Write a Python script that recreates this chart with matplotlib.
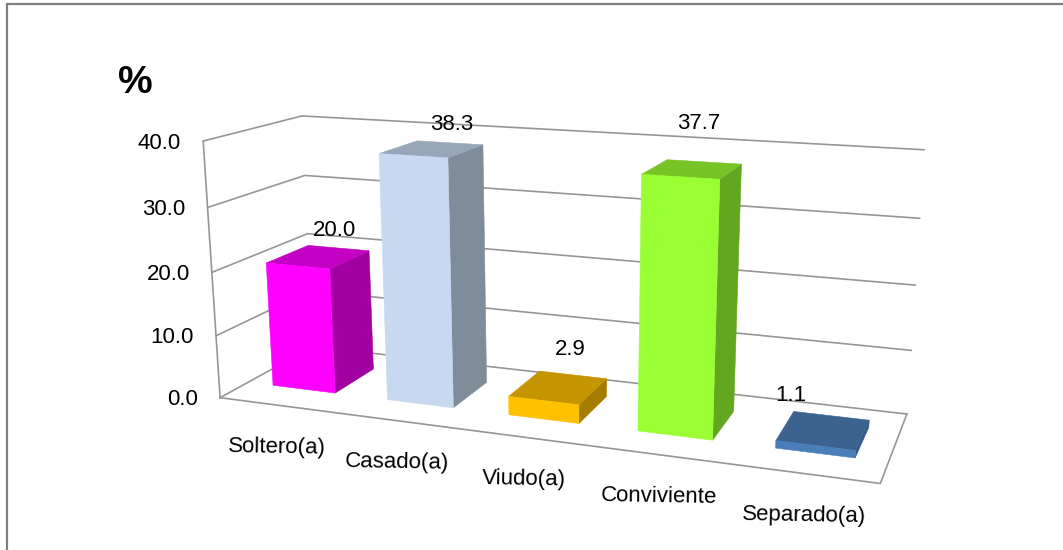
import numpy as np
import matplotlib
matplotlib.use('Agg')
import matplotlib.pyplot as plt
from matplotlib.patches import Polygon

categorias = ['Soltero(a)', 'Casado(a)', 'Viudo(a)', 'Conviviente', 'Separado(a)']
valores = [20.0, 38.3, 2.9, 37.7, 1.1]
niveles = [0, 10, 20, 30, 40]
etiquetas_y = ['0.0', '10.0', '20.0', '30.0', '40.0']

colores_frente = ['#FF00FF', '#C6D9F1', '#FFC000', '#99FF33', '#4A7EBB']
colores_arriba = ['#C400C4', '#98A6BA', '#C49500', '#77C426', '#3C628F']
colores_lado = ['#A000A0', '#7F8C9A', '#A67C00', '#63A620', '#37598A']

plt.rcParams['font.family'] = ['Liberation Sans', 'DejaVu Sans']

# camara: (x, profundidad, valor) -> pixel, ajustada a las esquinas de la caja
esquinas = [
    (0, 0, 0, 220, 398), (0, 0, 10, 216, 336), (0, 0, 20, 212.5, 272), (0, 0, 30, 207.5, 207), (0, 0, 40, 203, 141),
    (0, 1, 0, 313, 346), (0, 1, 20, 307, 235), (0, 1, 30, 305, 175), (0, 1, 40, 302, 116),
    (1, 1, 0, 907, 413), (1, 1, 10, 912, 351), (1, 1, 20, 915, 285), (1, 1, 30, 918, 218), (1, 1, 40, 925, 150),
    (1, 0, 0, 880, 484),
]
filas = []
for x, d, z, px, py in esquinas:
    z = z / 40
    filas.append([x, d, z, 1, 0, 0, 0, 0, -px * x, -px * d, -px * z, -px])
    filas.append([0, 0, 0, 0, x, d, z, 1, -py * x, -py * d, -py * z, -py])
camara = np.linalg.svd(np.array(filas))[2][-1].reshape(3, 4)


def proyectar(x, d, z):
    p = camara @ np.array([x, d, z / 40, 1])
    return p[0] / p[2], p[1] / p[2]


fig = plt.figure(figsize=(10.63, 5.5), dpi=100)
ax = fig.add_axes([0, 0, 1, 1])
ax.set_xlim(0, 1063)
ax.set_ylim(550, 0)
ax.axis('off')

# marco del grafico
ax.plot([7, 7, 1063], [550, 4, 4], color='#7F7F7F', lw=1.6, solid_joinstyle='miter', zorder=1)

gris = '#969696'
for n in niveles:
    pts = [proyectar(0, 0, n), proyectar(0, 1, n), proyectar(1, 1, n)]
    ax.plot(*zip(*pts), color=gris, lw=1.2, zorder=2)
ax.plot(*zip(proyectar(0, 0, 0), proyectar(0, 0, 40)), color=gris, lw=1.2, zorder=2)
ax.plot(*zip(proyectar(0, 0, 0), proyectar(1, 0, 0), proyectar(1, 1, 0)), color=gris, lw=1.2, zorder=2)

ancho = 0.55
d0, d1 = 0.28, 0.73
n_cat = len(categorias)
desfase_x = [16, 20, 12, 7, -32]
desfase_y = [-26, -25, -38, -46, -35]

for i, v in enumerate(valores):
    x0 = (i + 0.5 - ancho / 2) / n_cat
    x1 = (i + 0.5 + ancho / 2) / n_cat
    frente = [proyectar(x0, d0, 0), proyectar(x1, d0, 0), proyectar(x1, d0, v), proyectar(x0, d0, v)]
    lado = [proyectar(x1, d0, 0), proyectar(x1, d1, 0), proyectar(x1, d1, v), proyectar(x1, d0, v)]
    arriba = [proyectar(x0, d0, v), proyectar(x1, d0, v), proyectar(x1, d1, v), proyectar(x0, d1, v)]
    for poly, c in [(lado, colores_lado[i]), (arriba, colores_arriba[i]), (frente, colores_frente[i])]:
        ax.add_patch(Polygon(poly, closed=True, facecolor=c, edgecolor=c, lw=0.4, zorder=3 + i))
    tx, ty = proyectar((x0 + x1) / 2, 0.5, v)
    ax.text(tx + desfase_x[i], ty + desfase_y[i], f'{v:.1f}', fontsize=16, ha='center', va='center',
            color='black', zorder=10)

    # etiqueta de categoria debajo del piso
    lx, ly = proyectar((i + 0.5) / n_cat, 0, 0)
    ax.text(lx, ly + 42, categorias[i], fontsize=16, ha='center', va='center', rotation=-1,
            color='black', zorder=10)

for n, t in zip(niveles, etiquetas_y):
    px, py = proyectar(0, 0, n)
    ax.text(px - 22, py + 2, t, fontsize=16, ha='right', va='center', color='black')

ax.text(135, 83, '%', fontsize=28, fontweight='bold', ha='center', va='center', color='black')

fig.savefig('out.png', dpi=100)
